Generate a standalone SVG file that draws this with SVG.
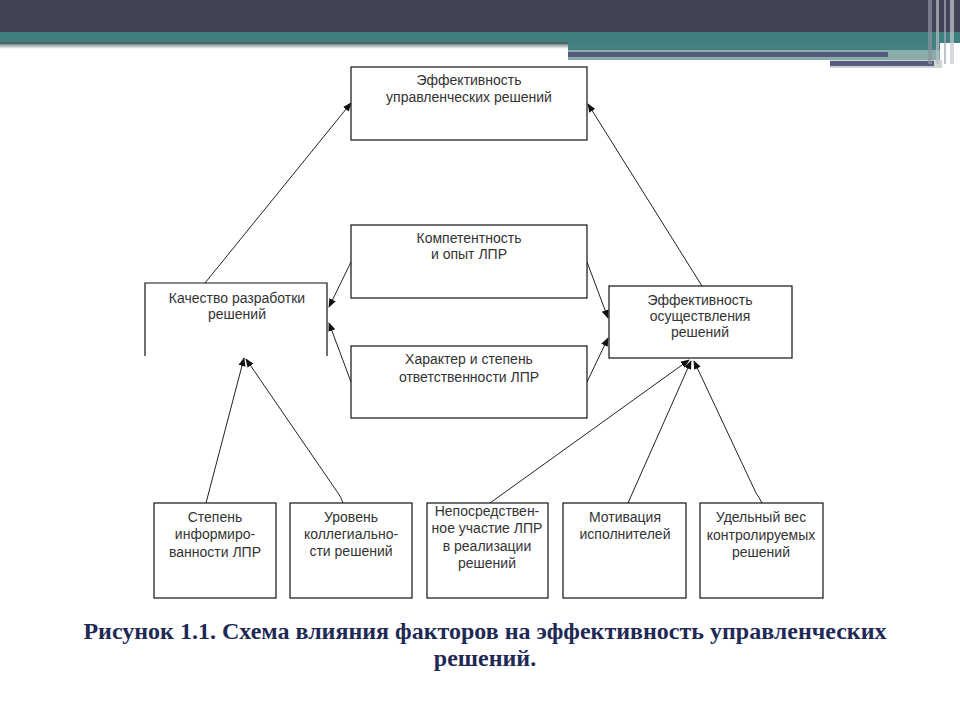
<svg xmlns="http://www.w3.org/2000/svg" width="960" height="720" viewBox="0 0 960 720">
<style>
.box{fill:#fff;stroke:#111;stroke-width:1.2}
.t{font-family:"Liberation Sans",Arial,sans-serif;font-size:14px;fill:#333;text-anchor:middle}
.c{stroke:#222;stroke-width:1;fill:none;marker-end:url(#ah)}
.cap{font-family:"Liberation Serif","Times New Roman",serif;font-size:24px;font-weight:bold;fill:#1e2a55;text-anchor:middle}
</style>
<defs>
<marker id="ah" viewBox="0 0 10 10" refX="9" refY="5" markerWidth="9" markerHeight="9" markerUnits="userSpaceOnUse" orient="auto">
<path d="M0,1 L10,5 L0,9 Z" fill="#111"/>
</marker>
<linearGradient id="sh" x1="0" y1="0" x2="0" y2="1">
<stop offset="0" stop-color="#7d8c8a"/>
<stop offset="1" stop-color="#ffffff"/>
</linearGradient>
</defs>
<rect width="960" height="720" fill="#fff"/>
<g id="header">
<rect x="0" y="0" width="960" height="32" fill="#424456"/>
<rect x="0" y="32" width="960" height="11" fill="#3f7f7e"/>
<rect x="0" y="42" width="568" height="2" fill="#50625f"/>
<rect x="0" y="44" width="568" height="5" fill="url(#sh)"/>
<rect x="568" y="43" width="372" height="7" fill="#43807f"/>
<rect x="568" y="50" width="372" height="10" fill="#8aadaa"/>
<rect x="568" y="52" width="320" height="5" fill="#555b7c"/>
<rect x="830" y="60" width="112" height="8" fill="#c9d6d5"/>
<rect x="830" y="61" width="104" height="5" fill="#575c80"/>
<rect x="928" y="0" width="4" height="64" fill="#8d93a0" opacity="0.7"/>
<rect x="936" y="0" width="3" height="64" fill="#b8bfc6" opacity="0.7"/>
<rect x="944" y="0" width="2" height="64" fill="#a4aab5" opacity="0.7"/>
<rect x="950" y="0" width="4" height="64" fill="#c5cad0" opacity="0.7"/>
</g>
<g id="connectors">
<line class="c" x1="205" y1="283" x2="351" y2="103"/>
<line class="c" x1="702" y1="286" x2="588" y2="104"/>
<line class="c" x1="351" y1="262" x2="329" y2="307"/>
<line class="c" x1="351" y1="382" x2="329" y2="323"/>
<line class="c" x1="587" y1="262" x2="608" y2="318"/>
<line class="c" x1="587" y1="382" x2="608" y2="338"/>
<line class="c" x1="206" y1="503" x2="244" y2="358"/>
<path class="c" d="M343,503 Q341,497 338,493 L246,359"/>
<line class="c" x1="490" y1="503" x2="689" y2="360"/>
<line class="c" x1="628" y1="503" x2="691" y2="361"/>
<path class="c" d="M762,503 Q759,497 756,493 L694,361"/>
</g>
<g id="n-top">
<rect class="box" x="351" y="67" width="236" height="73"/>
<text class="t" x="469" y="85">Эффективность</text>
<text class="t" x="469" y="102">управленческих решений</text>
</g>
<g id="n-komp">
<rect class="box" x="351" y="225" width="236" height="73"/>
<text class="t" x="469" y="243">Компетентность</text>
<text class="t" x="469" y="259">и опыт ЛПР</text>
</g>
<g id="n-har">
<rect class="box" x="351" y="346" width="236" height="72"/>
<text class="t" x="469" y="364">Характер и степень</text>
<text class="t" x="469" y="382">ответственности ЛПР</text>
</g>
<g id="n-kach">
<path d="M145,356 L145,283 L327,283 L327,356" fill="#fff" stroke="#111" stroke-width="1.2"/>
<text class="t" x="237" y="303">Качество разработки</text>
<text class="t" x="237" y="319">решений</text>
</g>
<g id="n-osu">
<rect class="box" x="609" y="286" width="183" height="72"/>
<text class="t" x="700" y="305">Эффективность</text>
<text class="t" x="700" y="321">осуществления</text>
<text class="t" x="700" y="337">решений</text>
</g>
<g id="n-step">
<rect class="box" x="154" y="503" width="122" height="95"/>
<text class="t" x="215" y="522">Степень</text>
<text class="t" x="215" y="539">информиро-</text>
<text class="t" x="215" y="557">ванности ЛПР</text>
</g>
<g id="n-ur">
<rect class="box" x="290" y="503" width="122" height="95"/>
<text class="t" x="351" y="522">Уровень</text>
<text class="t" x="351" y="539">коллегиально-</text>
<text class="t" x="351" y="556">сти решений</text>
</g>
<g id="n-nep">
<rect class="box" x="427" y="503" width="121" height="95"/>
<text class="t" x="487" y="516">Непосредствен-</text>
<text class="t" x="487" y="533">ное участие ЛПР</text>
<text class="t" x="487" y="551">в реализации</text>
<text class="t" x="487" y="568">решений</text>
</g>
<g id="n-mot">
<rect class="box" x="563" y="503" width="123" height="95"/>
<text class="t" x="625" y="522">Мотивация</text>
<text class="t" x="625" y="539">исполнителей</text>
</g>
<g id="n-ud">
<rect class="box" x="700" y="503" width="123" height="95"/>
<text class="t" x="761" y="522">Удельный вес</text>
<text class="t" x="761" y="540">контролируемых</text>
<text class="t" x="761" y="557">решений</text>
</g>
<g id="caption">
<text class="cap" x="485" y="639">Рисунок 1.1. Схема влияния факторов на эффективность управленческих</text>
<text class="cap" x="485" y="666">решений.</text>
</g>
</svg>
